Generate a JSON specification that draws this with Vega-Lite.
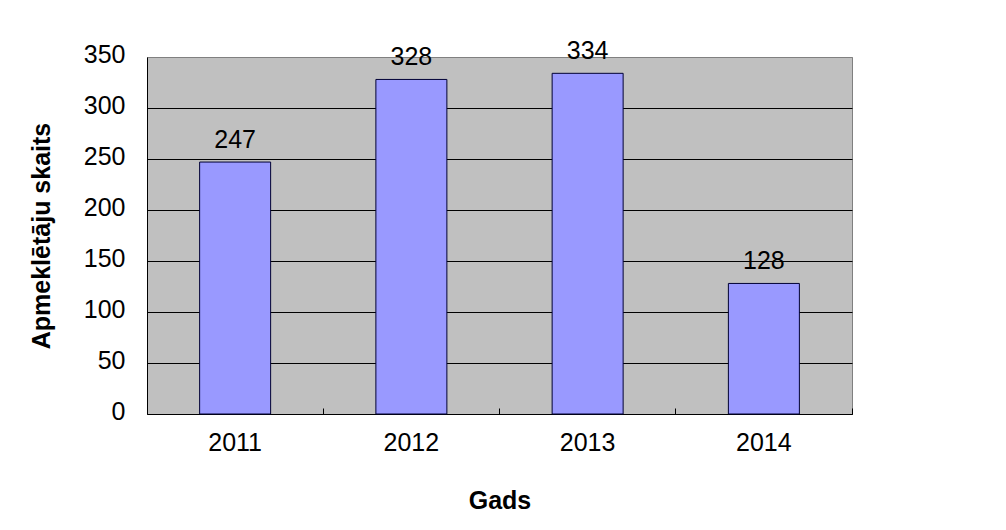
{
  "$schema": "https://vega.github.io/schema/vega-lite/v6.json",
  "width": 705,
  "height": 357,
  "autosize": {"type": "none"},
  "padding": {"left": 147, "top": 57, "right": 154, "bottom": 116},
  "background": "white",
  "config": {
    "font": "Liberation Sans",
    "view": {"fill": "#C0C0C0", "stroke": "#808080", "strokeWidth": 1},
    "axis": {"labelFont": "Liberation Sans", "titleFont": "Liberation Sans", "labelColor": "black", "titleColor": "black"}
  },
  "data": {
    "values": [
      {"Gads": "2011", "skaits": 247},
      {"Gads": "2012", "skaits": 328},
      {"Gads": "2013", "skaits": 334},
      {"Gads": "2014", "skaits": 128}
    ]
  },
  "layer": [
    {
      "mark": {"type": "bar", "size": 71, "fill": "#9999FF", "stroke": "#000033", "strokeWidth": 1},
      "encoding": {
        "x": {
          "field": "Gads", "type": "ordinal",
          "scale": {"paddingInner": 0, "paddingOuter": 0},
          "axis": {
            "title": "Gads", "titleFontSize": 25, "titleFontWeight": "bold", "titlePadding": 33,
            "labelFontSize": 25, "labelAngle": 0, "labelPadding": 16, "ticks": false,
            "domainColor": "black", "domainWidth": 1, "grid": false
          }
        },
        "y": {
          "field": "skaits", "type": "quantitative",
          "scale": {"domain": [0, 350], "nice": false},
          "axis": {
            "title": "Apmeklētāju skaits", "titleFontSize": 25, "titleFontWeight": "bold", "titlePadding": 29,
            "values": [0, 50, 100, 150, 200, 250, 300, 350],
            "labelFontSize": 25, "labelPadding": 22, "labelOffset": -3, "ticks": false,
            "domainColor": "black", "domainWidth": 1,
            "grid": true,
            "gridColor": {"condition": {"test": "datum.value === 350", "value": "#808080"}, "value": "black"},
            "gridWidth": 1, "gridOpacity": 1
          }
        }
      }
    },
    {
      "mark": {"type": "text", "fontSize": 25, "baseline": "alphabetic", "dy": -14, "color": "black", "font": "Liberation Sans"},
      "encoding": {
        "x": {
          "field": "Gads", "type": "ordinal",
          "axis": {
            "orient": "bottom", "offset": -6, "tickSize": 6, "tickColor": "black", "tickWidth": 1,
            "bandPosition": 1, "labels": false, "domain": false, "title": null, "grid": false
          }
        },
        "y": {"field": "skaits", "type": "quantitative"},
        "text": {"field": "skaits", "type": "quantitative"}
      }
    }
  ],
  "resolve": {"axis": {"x": "independent"}}
}
